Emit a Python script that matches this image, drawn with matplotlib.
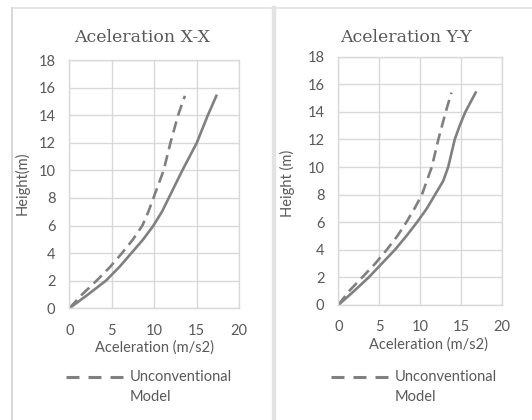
import matplotlib
matplotlib.use('Agg')
import matplotlib.pyplot as plt
from matplotlib.lines import Line2D

# Aceleration X-X
h_x_conv = [0, 1, 2, 3, 4, 5, 6, 7, 8, 9, 10, 12, 14, 15.4]
a_x_conv = [0, 2.2, 4.3, 5.9, 7.3, 8.7, 9.9, 10.9, 11.7, 12.5, 13.3, 15.0, 16.3, 17.3]
h_x_unconv = [0, 1, 2, 3, 4, 5, 6, 7, 8, 10, 12, 14, 15.4]
a_x_unconv = [0, 1.5, 3.2, 4.8, 6.2, 7.5, 8.6, 9.3, 9.9, 11.1, 11.9, 12.8, 13.6]

# Aceleration Y-Y
h_y_conv = [0, 1, 2, 3, 4, 5, 6, 7, 8, 9, 10, 11, 12, 13, 14, 15.4]
a_y_conv = [0, 1.9, 3.7, 5.3, 6.9, 8.3, 9.6, 10.8, 11.8, 12.8, 13.4, 13.8, 14.2, 14.8, 15.5, 16.75]
h_y_unconv = [0, 1, 2, 3, 4, 5, 6, 7, 8, 10, 12, 14, 15.4]
a_y_unconv = [0, 1.3, 2.9, 4.5, 5.9, 7.2, 8.3, 9.3, 10.2, 11.4, 12.2, 13.1, 13.8]

x_ticks = [0, 5, 10, 15, 20]
y_ticks = list(range(0, 19, 2))

grey = '#808080'
grid_c = '#d9d9d9'
text_c = '#595959'
tick_font = 'Lato'
fs = 10.5
W, H = 532, 420

fig = plt.figure(figsize=(5.32, 4.2), dpi=100)

# panel borders
fig.add_artist(Line2D([11.5 / W, 1], [1 - 7.5 / H] * 2, color='#e0e0e0', lw=1.2))
fig.add_artist(Line2D([11.5 / W] * 2, [0, 1 - 7.5 / H], color='#d9d9d9', lw=1.5))
fig.add_artist(Line2D([274 / W] * 2, [0, 1 - 7.5 / H], color='#e3e3e3', lw=3.2))


def make_panel(rect, title, title_x, ylabel, ylabel_x, conv, unconv, xlabel_x, leg_x):
    ax = fig.add_axes(rect)
    ax.plot(conv[0], conv[1], color=grey, lw=1.9, solid_joinstyle='round')
    ax.plot(unconv[0], unconv[1], color=grey, lw=1.9, dashes=(4.3, 2.3))
    ax.set_xlim(0, 20)
    ax.set_ylim(0, 18)
    ax.set_xticks(x_ticks)
    ax.set_yticks(y_ticks)
    ax.grid(True, color=grid_c, lw=1.0)
    ax.set_axisbelow(True)
    for s in ax.spines.values():
        s.set_color(grid_c)
        s.set_linewidth(1.0)
    ax.tick_params(length=0, colors=text_c, labelsize=fs)
    ax.tick_params(axis='x', pad=11)
    ax.tick_params(axis='y', pad=10)
    for lab in ax.get_xticklabels() + ax.get_yticklabels():
        lab.set_fontfamily(tick_font)
    ax.set_xlabel('Aceleration (m/s2)', fontsize=fs, color=text_c,
                  fontfamily=tick_font)
    ax.xaxis.set_label_coords(xlabel_x, -0.13)
    fig.text(title_x / W, 1 - 37 / H, title, ha='center', va='center',
             fontsize=12.5, color=text_c, fontfamily='DejaVu Serif')
    fig.text(ylabel_x / W, 1 - 183 / H, ylabel, ha='center', va='center',
             rotation=90, fontsize=fs, color=text_c, fontfamily=tick_font)
    # legend: dashed sample aligned with the first text line
    fig.add_artist(Line2D([leg_x / W, (leg_x + 57) / W], [1 - 377 / H] * 2,
                          color=grey, lw=2.2, dashes=(4.25, 2.95)))
    fig.text((leg_x + 64) / W, 1 - 377 / H, 'Unconventional', ha='left',
             va='center', fontsize=fs, color=text_c, fontfamily=tick_font)
    fig.text((leg_x + 64) / W, 1 - 397 / H, 'Model', ha='left',
             va='center', fontsize=fs, color=text_c, fontfamily=tick_font)
    return ax


make_panel([69.3 / W, 1 - 308.3 / H, 170 / W, 248.3 / H],
           'Aceleration X-X', 142.5, 'Height(m)', 21.7,
           (a_x_conv, h_x_conv), (a_x_unconv, h_x_unconv), 0.5, 66)
make_panel([338.3 / W, 1 - 305 / H, 164 / W, 248.3 / H],
           'Aceleration Y-Y', 405.5, 'Height (m)', 287.7,
           (a_y_conv, h_y_conv), (a_y_unconv, h_y_unconv), 0.553, 331)

fig.savefig('out.png', dpi=100)
